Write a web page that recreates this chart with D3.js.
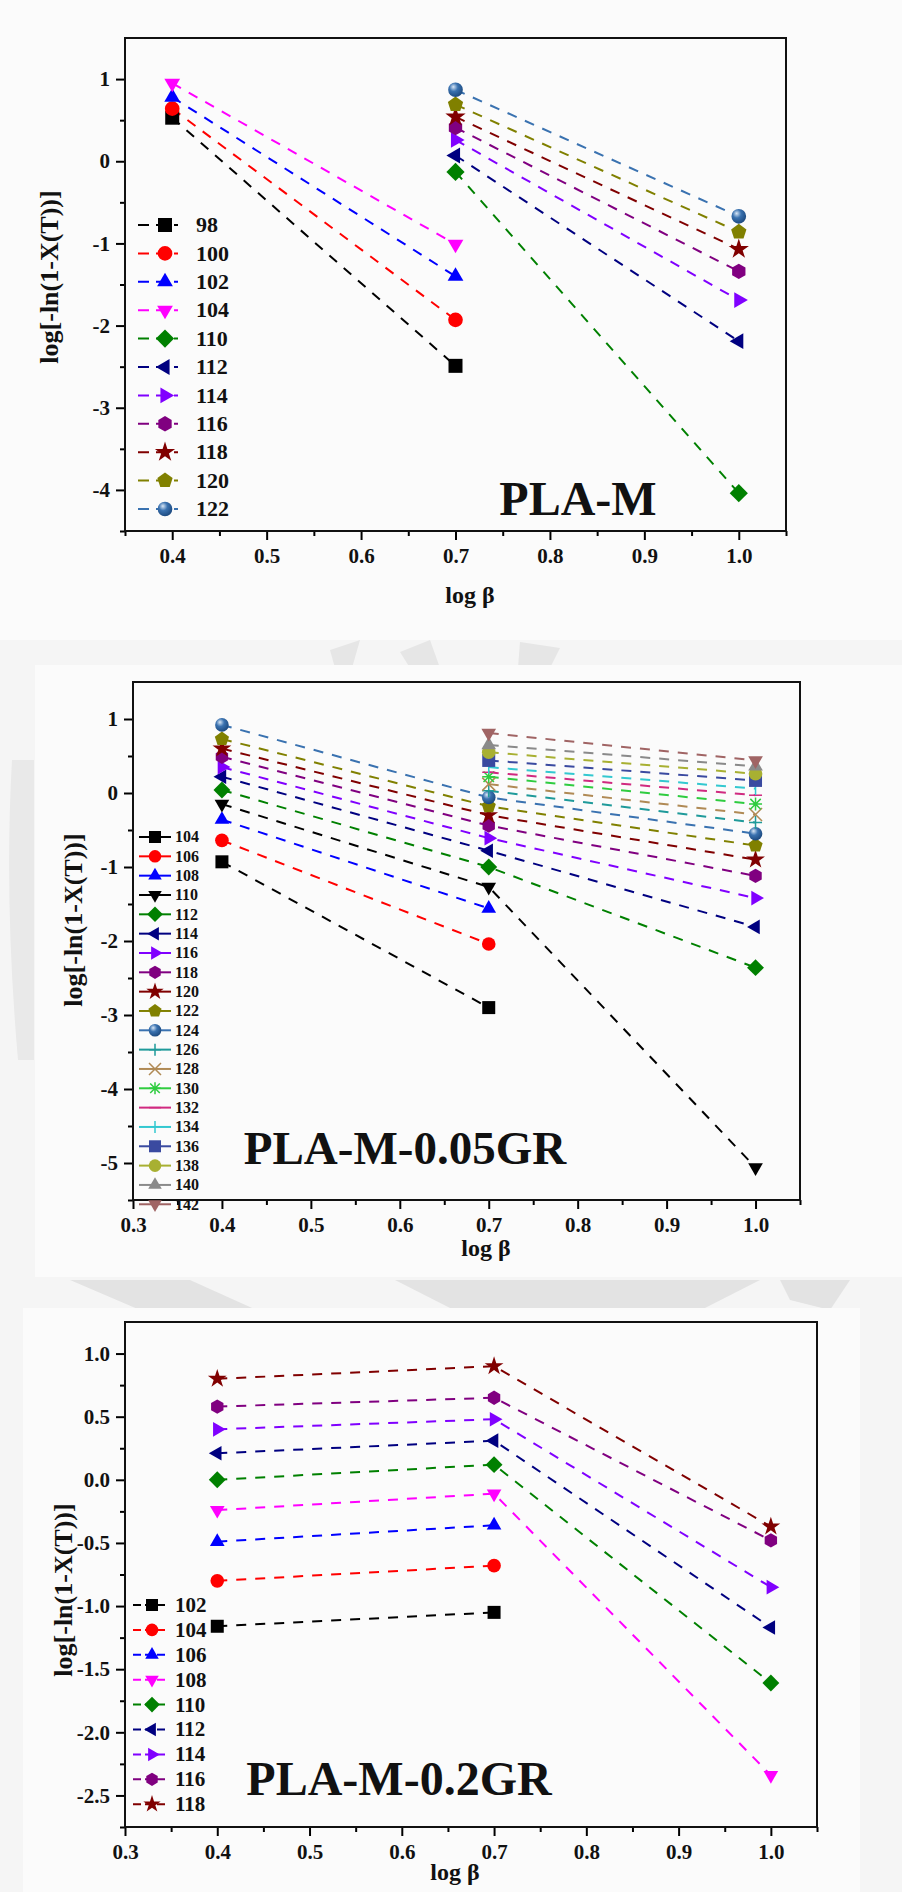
<!DOCTYPE html>
<html>
<head>
<meta charset="utf-8">
<script src="https://cdn.jsdelivr.net/npm/d3@7"></script>
<style>
  body { margin: 0; background: #f5f5f5; }
  svg text { font-family: "Liberation Serif", "Times New Roman", serif; font-weight: bold; fill: #111; }
</style>
</head>
<body>
<svg id="chart" width="902" height="1892"></svg>
<script>
// heating rate axis, shared by the three panels
var logBeta = [0.4, 0.7, 1.0];

// PLA-M  (null = no point at that heating rate)
var plaMTemps = ["98", "100", "102", "104", "110", "112", "114", "116", "118", "120", "122"];
var plaMValues = [
  [0.53, -2.49, null],
  [0.64, -1.93, null],
  [0.78, -1.40, null],
  [0.95, -1.01, null],
  [null, -0.13, -4.04],
  [null, 0.07, -2.19],
  [null, 0.26, -1.69],
  [null, 0.41, -1.34],
  [null, 0.54, -1.07],
  [null, 0.69, -0.86],
  [null, 0.87, -0.67]
];

// PLA-M-0.05GR
var gr005Temps = ["104", "106", "108", "110", "112", "114", "116", "118", "120", "122",
  "124", "126", "128", "130", "132", "134", "136", "138", "140", "142"];
var gr005Values = [
  [-0.93, -2.90, null],
  [-0.64, -2.04, null],
  [-0.36, -1.56, null],
  [-0.15, -1.27, -5.06],
  [0.04, -1.00, -2.36],
  [0.22, -0.78, -1.81],
  [0.35, -0.61, -1.42],
  [0.49, -0.44, -1.12],
  [0.60, -0.30, -0.90],
  [0.73, -0.18, -0.71],
  [0.92, -0.06, -0.55],
  [null, 0.03, -0.40],
  [null, 0.12, -0.29],
  [null, 0.22, -0.15],
  [null, 0.28, -0.03],
  [null, 0.35, 0.06],
  [null, 0.44, 0.17],
  [null, 0.55, 0.26],
  [null, 0.65, 0.36],
  [null, 0.81, 0.44]
];

// PLA-M-0.2GR
var gr02Temps = ["102", "104", "106", "108", "110", "112", "114", "116", "118"];
var gr02Values = [
  [-1.16, -1.05, null],
  [-0.80, -0.68, null],
  [-0.49, -0.36, null],
  [-0.24, -0.11, -2.34],
  [0.00, 0.12, -1.61],
  [0.21, 0.31, -1.17],
  [0.40, 0.48, -0.85],
  [0.58, 0.65, -0.48],
  [0.80, 0.90, -0.37]
];

// tick labels
var plaMXTicks = [0.4, 0.5, 0.6, 0.7, 0.8, 0.9, 1.0];
var plaMYTicks = [-4, -3, -2, -1, 0, 1];
var gr005XTicks = [0.3, 0.4, 0.5, 0.6, 0.7, 0.8, 0.9, 1.0];
var gr005YTicks = [-5, -4, -3, -2, -1, 0, 1];
var gr02XTicks = [0.3, 0.4, 0.5, 0.6, 0.7, 0.8, 0.9, 1.0];
var gr02YTicks = [-2.5, -2.0, -1.5, -1.0, -0.5, 0.0, 0.5, 1.0];

// series styles (Origin-like palette)
var plaMColors = ["#000000", "#ff0000", "#0000ff", "#ff00ff", "#008000", "#000080", "#8000ff", "#800080", "#800000", "#808000", "#3a72b0"];
var plaMShapes = ["square", "circle", "up", "down", "diamond", "left", "right", "hexagon", "star", "pentagon", "sphere"];
var gr005Colors = ["#000000", "#ff0000", "#0000ff", "#000000", "#008000", "#000080", "#8000ff", "#800080", "#800000", "#808000",
  "#3a72b0", "#1f9a9a", "#b08a55", "#2fcc40", "#d02a80", "#33c8d0", "#3a4aa0", "#a8b032", "#8a8a8a", "#a06464"];
var gr005Shapes = ["square", "circle", "up", "down", "diamond", "left", "right", "hexagon", "star", "pentagon",
  "sphere", "plus", "cross", "asterisk", "hbar", "vbar", "square", "circle", "up", "down"];
var gr02Colors = ["#000000", "#ff0000", "#0000ff", "#ff00ff", "#008000", "#000080", "#8000ff", "#800080", "#800000"];
var gr02Shapes = ["square", "circle", "up", "down", "diamond", "left", "right", "hexagon", "star"];

var svg = d3.select("#chart");
var defs = svg.append("defs");

// faint watermark of the scanned page, only visible between the figures
var wm = svg.append("g").attr("fill", "#e3e3e3").attr("stroke", "none");
wm.append("path").attr("d", "M70,1280 L190,1280 L290,1325 L175,1325 Z");
wm.append("path").attr("d", "M395,1280 L760,1280 L705,1308 L450,1308 Z");
wm.append("path").attr("d", "M780,1280 L850,1280 L830,1310 L790,1300 Z");
wm.append("path").attr("d", "M12,760 Q4,900 18,1060 L34,1060 L34,760 Z").attr("fill", "#e9e9e9");
wm.append("path").attr("d", "M330,650 L360,640 L352,668 L335,668 Z M400,652 L430,640 L440,668 L410,668 Z M520,642 L560,648 L550,668 L518,668 Z")
  .attr("fill", "#e6e6e6");

// paper-like backgrounds of the pasted figures
svg.append("rect").attr("x", 0).attr("y", 0).attr("width", 902).attr("height", 640).attr("fill", "#fbfbfb");
svg.append("rect").attr("x", 35).attr("y", 665).attr("width", 867).attr("height", 612).attr("fill", "#fbfbfb");
svg.append("rect").attr("x", 23).attr("y", 1308).attr("width", 837).attr("height", 584).attr("fill", "#fbfbfb");

function poly(n, r, rot) {
  var pts = d3.range(n).map(function(i) {
    var a = rot + i * 2 * Math.PI / n;
    return [r * Math.sin(a), -r * Math.cos(a)];
  });
  return "M" + pts.join("L") + "Z";
}

function markerPath(shape, r) {
  switch (shape) {
    case "square": return "M" + (-r) + "," + (-r) + "h" + 2 * r + "v" + 2 * r + "h" + (-2 * r) + "Z";
    case "circle":
    case "sphere": return d3.symbol(d3.symbolCircle, Math.PI * r * r * 1.1)();
    case "up": return poly(3, r * 1.3, 0);
    case "down": return poly(3, r * 1.3, Math.PI);
    case "left": return poly(3, r * 1.3, -Math.PI / 2);
    case "right": return poly(3, r * 1.3, Math.PI / 2);
    case "diamond": return poly(4, r * 1.3, 0);
    case "hexagon": return poly(6, r * 1.1, 0);
    case "pentagon": return poly(5, r * 1.15, 0);
    case "star": return d3.symbol(d3.symbolStar, r * r * 2.6)();
    case "plus": return "M" + (-r) + ",0H" + r + "M0," + (-r) + "V" + r;
    case "cross": return "M" + (-r) + "," + (-r) + "L" + r + "," + r + "M" + (-r) + "," + r + "L" + r + "," + (-r);
    case "asterisk": return "M" + (-r) + ",0H" + r + "M0," + (-r) + "V" + r +
      "M" + (-r * 0.8) + "," + (-r * 0.8) + "L" + r * 0.8 + "," + r * 0.8 + "M" + (-r * 0.8) + "," + r * 0.8 + "L" + r * 0.8 + "," + (-r * 0.8);
    case "hbar": return "M" + (-r) + ",0H" + r;
    case "vbar": return "M0," + (-r) + "V" + r;
  }
}

var strokeOnly = { plus: 1, cross: 1, asterisk: 1, hbar: 1, vbar: 1 };
var gradCount = 0;

function drawMarker(g, shape, color, r, x, y) {
  var p = g.append("path")
    .attr("d", markerPath(shape, r))
    .attr("transform", "translate(" + x + "," + y + ")");
  if (strokeOnly[shape]) {
    p.attr("fill", "none").attr("stroke", color).attr("stroke-width", 1.5);
  } else if (shape === "sphere") {
    var id = "sph" + (gradCount++);
    var grad = defs.append("radialGradient").attr("id", id)
      .attr("cx", "40%").attr("cy", "35%").attr("r", "65%").attr("fx", "35%").attr("fy", "30%");
    grad.append("stop").attr("offset", "0%").attr("stop-color", "#d8e6f5");
    grad.append("stop").attr("offset", "45%").attr("stop-color", color);
    grad.append("stop").attr("offset", "100%").attr("stop-color", "#1d4a80");
    p.attr("fill", "url(#" + id + ")");
  } else {
    p.attr("fill", color);
  }
}

function drawPanel(cfg) {
  var x = d3.scaleLinear().domain(cfg.xDomain).range([cfg.left, cfg.right]);
  var y = d3.scaleLinear().domain(cfg.yDomain).range([cfg.bottom, cfg.top]);
  var g = svg.append("g");

  // minor ticks
  var xMinor = d3.range(cfg.xDomain[0], cfg.xDomain[1] + 1e-6, 0.05).filter(function(v) {
    return cfg.xTicks.every(function(t) { return Math.abs(t - v) > 1e-6; });
  });
  var yMinor = d3.range(cfg.yTicks[0] - cfg.yStep / 2, cfg.yDomain[1], cfg.yStep / 2).filter(function(v) {
    return v >= cfg.yDomain[0] - 1e-6 && cfg.yTicks.every(function(t) { return Math.abs(t - v) > 1e-6; });
  });
  g.append("g").attr("transform", "translate(0," + cfg.bottom + ")")
    .call(d3.axisBottom(x).tickValues(xMinor).tickSize(5).tickFormat(""))
    .call(function(a) { a.select(".domain").remove(); a.selectAll("line").attr("stroke-width", 2); });
  g.append("g").attr("transform", "translate(" + cfg.left + ",0)")
    .call(d3.axisLeft(y).tickValues(yMinor).tickSize(5).tickFormat(""))
    .call(function(a) { a.select(".domain").remove(); a.selectAll("line").attr("stroke-width", 2); });

  // major ticks + labels
  g.append("g").attr("transform", "translate(0," + cfg.bottom + ")")
    .call(d3.axisBottom(x).tickValues(cfg.xTicks).tickSize(9).tickPadding(8).tickFormat(d3.format(".1f")))
    .call(function(a) {
      a.select(".domain").remove();
      a.selectAll("line").attr("stroke-width", 2);
      a.selectAll("text").attr("font-size", cfg.tickFont).attr("fill", "#111");
    });
  g.append("g").attr("transform", "translate(" + cfg.left + ",0)")
    .call(d3.axisLeft(y).tickValues(cfg.yTicks).tickSize(9).tickPadding(6).tickFormat(cfg.yFormat))
    .call(function(a) {
      a.select(".domain").remove();
      a.selectAll("line").attr("stroke-width", 2);
      a.selectAll("text").attr("font-size", cfg.tickFont).attr("fill", "#111");
    });

  // frame
  g.append("rect")
    .attr("x", cfg.left).attr("y", cfg.top)
    .attr("width", cfg.right - cfg.left).attr("height", cfg.bottom - cfg.top)
    .attr("fill", "none").attr("stroke", "#111").attr("stroke-width", 2);

  // axis titles
  g.append("text")
    .attr("transform", "translate(" + cfg.yLabel[0] + "," + cfg.yLabel[1] + ") rotate(-90)")
    .attr("text-anchor", "middle").attr("font-size", 26)
    .text("log[-ln(1-X(T))]");
  g.append("text")
    .attr("x", cfg.xLabel[0]).attr("y", cfg.xLabel[1])
    .attr("text-anchor", "middle").attr("font-size", 24)
    .text("log β");

  // sample name
  g.append("text")
    .attr("x", cfg.titlePos[0]).attr("y", cfg.titlePos[1])
    .attr("text-anchor", "middle").attr("font-size", cfg.titleFont)
    .text(cfg.title);

  // dashed lines
  var line = d3.line()
    .defined(function(d) { return d[1] !== null; })
    .x(function(d) { return x(d[0]); })
    .y(function(d) { return y(d[1]); });

  cfg.values.forEach(function(vals, i) {
    var pts = vals.map(function(v, j) { return [logBeta[j], v]; });
    g.append("path")
      .attr("d", line(pts))
      .attr("fill", "none")
      .attr("stroke", cfg.colors[i])
      .attr("stroke-width", 2)
      .attr("stroke-dasharray", "10,9");
  });
  cfg.values.forEach(function(vals, i) {
    vals.forEach(function(v, j) {
      if (v === null) return;
      drawMarker(g, cfg.shapes[i], cfg.colors[i], cfg.markerR, x(logBeta[j]), y(v));
    });
  });

  // legend
  var lg = cfg.legend;
  cfg.temps.forEach(function(t, i) {
    var ly = lg.y + i * lg.step;
    g.append("line")
      .attr("x1", lg.x1).attr("x2", lg.x2).attr("y1", ly).attr("y2", ly)
      .attr("stroke", cfg.colors[i]).attr("stroke-width", 2)
      .attr("stroke-dasharray", lg.dash);
    drawMarker(g, cfg.shapes[i], cfg.colors[i], lg.r, lg.mx, ly);
    g.append("text")
      .attr("x", lg.tx).attr("y", ly + lg.font * 0.33)
      .attr("font-size", lg.font)
      .text(t);
  });
}

var intFormat = function(d) { return String(d); };
var oneDecimal = function(d) { return d.toFixed(1); };

drawPanel({
  temps: plaMTemps, values: plaMValues, colors: plaMColors, shapes: plaMShapes,
  left: 125, right: 786, top: 38, bottom: 531,
  xDomain: [0.35, 1.05], yDomain: [-4.5, 1.5],
  xTicks: plaMXTicks, yTicks: plaMYTicks, yStep: 1, yFormat: intFormat,
  tickFont: 21, markerR: 7,
  yLabel: [58, 277], xLabel: [470, 603],
  title: "PLA-M", titlePos: [578, 515], titleFont: 48,
  legend: { y: 225, step: 28.4, x1: 138, x2: 178, dash: "11,7", mx: 165, r: 7, tx: 196, font: 22 }
});

drawPanel({
  temps: gr005Temps, values: gr005Values, colors: gr005Colors, shapes: gr005Shapes,
  left: 133, right: 800, top: 682, bottom: 1200,
  xDomain: [0.3, 1.05], yDomain: [-5.5, 1.5],
  xTicks: gr005XTicks, yTicks: gr005YTicks, yStep: 1, yFormat: intFormat,
  tickFont: 21, markerR: 6.5,
  yLabel: [82, 920], xLabel: [486, 1256],
  title: "PLA-M-0.05GR", titlePos: [405, 1164], titleFont: 47,
  legend: { y: 837, step: 19.33, x1: 139, x2: 171, dash: null, mx: 155, r: 6, tx: 175, font: 16 }
});

drawPanel({
  temps: gr02Temps, values: gr02Values, colors: gr02Colors, shapes: gr02Shapes,
  left: 125, right: 817, top: 1322, bottom: 1827,
  xDomain: [0.3, 1.05], yDomain: [-2.75, 1.25],
  xTicks: gr02XTicks, yTicks: gr02YTicks, yStep: 0.5, yFormat: oneDecimal,
  tickFont: 21, markerR: 6.5,
  yLabel: [72, 1590], xLabel: [455, 1880],
  title: "PLA-M-0.2GR", titlePos: [399, 1795], titleFont: 48,
  legend: { y: 1605, step: 24.9, x1: 133, x2: 167, dash: "8,4", mx: 152, r: 6, tx: 175, font: 21 }
});
</script>
</body>
</html>
